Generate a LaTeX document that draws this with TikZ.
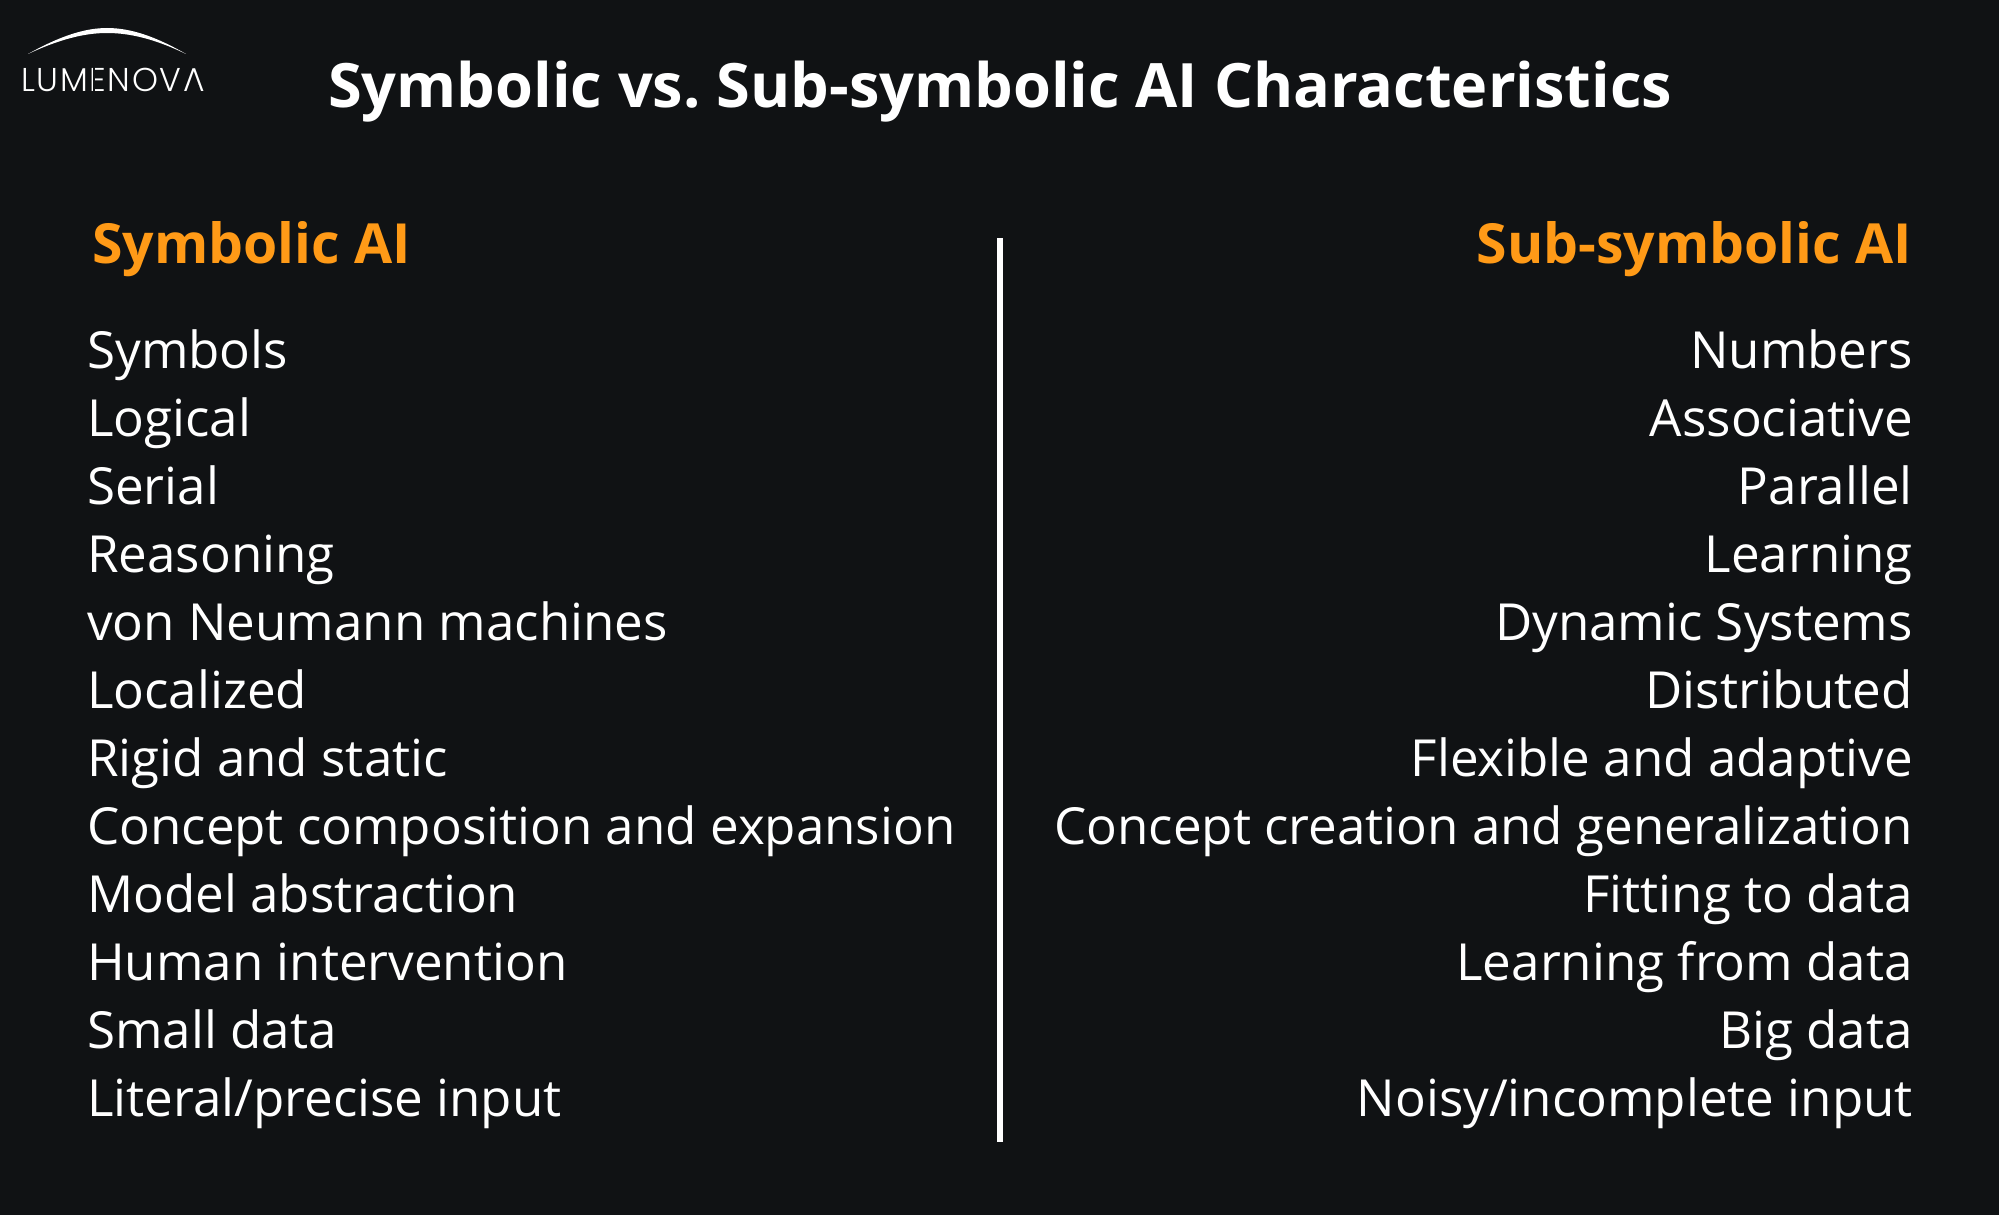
\documentclass[tikz,border=0pt]{standalone}
\usepackage{fontspec}
\setmainfont{Open Sans}
\newfontfamily\logofont[LetterSpace=5]{Poppins Light}
\definecolor{pagebg}{HTML}{101214}
\definecolor{headorange}{HTML}{FF9A17}
\tikzset{
	titletext/.style={anchor=base west,text=white,inner sep=0pt,font=\fontsize{61.2}{62}\selectfont\bfseries},
	headtext/.style={inner sep=0pt,text=headorange,font=\fontsize{55.3}{56}\selectfont\bfseries},
	itemleft/.style={anchor=base west,inner sep=0pt,text=white,font=\fontsize{51.1}{52}\selectfont},
	itemright/.style={anchor=base east,inner sep=0pt,text=white,font=\fontsize{51.1}{52}\selectfont},
}
\begin{document}
\frenchspacing
\begin{tikzpicture}[x=1pt,y=-1pt]
	\fill[pagebg] (0,0) rectangle (1999,1215);
	\useasboundingbox (0,0) rectangle (1999,1215);
	% logo
	\fill[white] (28,54) .. controls (60,36) and (85,28) .. (107,28) .. controls (130,28) and (155,36) .. (186,54) .. controls (155,39) and (130,33) .. (107,33) .. controls (85,33) and (60,39) .. (28,54) -- cycle;
	\node[anchor=base west,inner sep=0pt,text=white,font=\fontsize{33}{34}\selectfont\logofont] (logo) at (21,91) {LUMENOVA};
	% the E has no stem, the last A no bar
	\fill[pagebg] ([xshift=72.1pt]logo.base west) rectangle +(1.9pt,26pt);
	\fill[pagebg] ([xshift=172.8pt,yshift=5pt]logo.base west) -- +(-5.3pt,0pt) -- +(-4.2pt,2.8pt) -- +(4.2pt,2.8pt) -- +(5.3pt,0pt) -- cycle;
	% title
	\node[titletext] (title) at (328,107) {Symbolic vs. Sub-symbolic AI Characteristics};
	% headings
	\node[headtext,anchor=base west] (headL) at (92,263) {Symbolic AI};
	\node[headtext,anchor=base east] (headR) at (1912,263) {Sub-symbolic AI};
	% divider
	\coordinate (divtop) at (999.5,238);
	\coordinate (divbot) at (999.5,1142);
	\draw[white,line width=6pt] (divtop) -- (divbot);
	% left column
	\node[itemleft] (l1) at (87,368) {Symbols};
	\node[itemleft] (l2) at (87,436) {Logical};
	\node[itemleft] (l3) at (87,504) {Serial};
	\node[itemleft] (l4) at (87,572) {Reasoning};
	\node[itemleft] (l5) at (87,640) {von Neumann machines};
	\node[itemleft] (l6) at (87,708) {Localized};
	\node[itemleft] (l7) at (87,776) {Rigid and static};
	\node[itemleft] (l8) at (87,844) {Concept composition and expansion};
	\node[itemleft] (l9) at (87,912) {Model abstraction};
	\node[itemleft] (l10) at (87,980) {Human intervention};
	\node[itemleft] (l11) at (87,1048) {Small data};
	\node[itemleft] (l12) at (87,1116) {Literal/precise input};
	% right column
	\node[itemright] (r1) at (1913,368) {Numbers};
	\node[itemright] (r2) at (1913,436) {Associative};
	\node[itemright] (r3) at (1913,504) {Parallel};
	\node[itemright] (r4) at (1913,572) {Learning};
	\node[itemright] (r5) at (1913,640) {Dynamic Systems};
	\node[itemright] (r6) at (1913,708) {Distributed};
	\node[itemright] (r7) at (1913,776) {Flexible and adaptive};
	\node[itemright] (r8) at (1913,844) {Concept creation and generalization};
	\node[itemright] (r9) at (1913,912) {Fitting to data};
	\node[itemright] (r10) at (1913,980) {Learning from data};
	\node[itemright] (r11) at (1913,1048) {Big data};
	\node[itemright] (r12) at (1913,1116) {Noisy/incomplete input};
\end{tikzpicture}
\end{document}
